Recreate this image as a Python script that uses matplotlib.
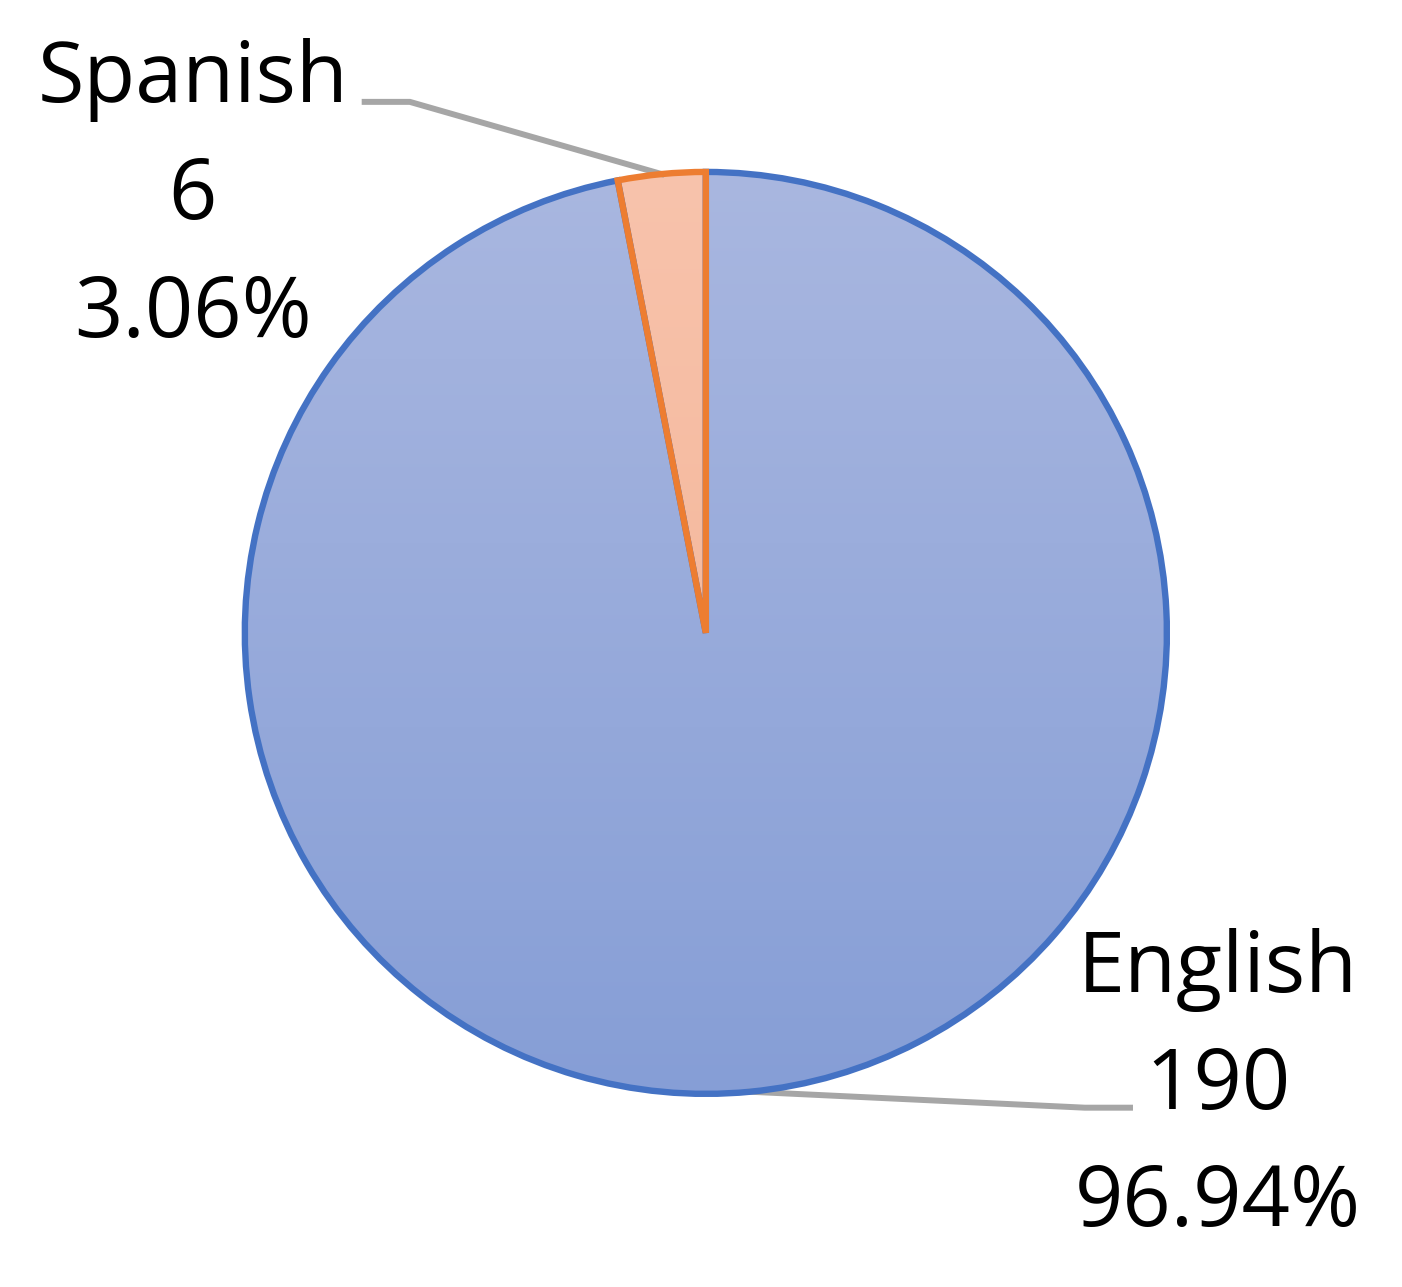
import numpy as np
import matplotlib.pyplot as plt
from matplotlib.colors import LinearSegmentedColormap

languages = ["English", "Spanish"]
counts = [190, 6]
percents = ["96.94%", "3.06%"]

edge_colors = ["#4472C4", "#ED7D31"]
grad_top = ["#A9B7E0", "#F8C3AC"]
grad_bottom = ["#869ED6", "#F2B090"]

fig = plt.figure(figsize=(14.02, 12.87), dpi=100)
ax = fig.add_axes([0, 0, 1, 1])
ax.axis("off")

wedges, _ = ax.pie(counts, startangle=90, counterclock=False, radius=1.0,
                   wedgeprops=dict(facecolor="none", linewidth=0))

# gradient fill clipped to each wedge, then the outline on top
for i, w in enumerate(wedges):
    cmap = LinearSegmentedColormap.from_list("g%d" % i, [grad_bottom[i], grad_top[i]])
    grad = np.linspace(0, 1, 256).reshape(-1, 1)
    im = ax.imshow(grad, cmap=cmap, origin="lower", extent=(-1, 1, -1, 1),
                   aspect="auto", zorder=1)
    im.set_clip_path(w)

for i in [0, 1]:
    w = wedges[i]
    w.set_edgecolor(edge_colors[i])
    w.set_linewidth(4.6)
    w.set_zorder(3 + i)
    w.set_joinstyle("miter")

ax.set_xlim(-1.531, 1.510)
ax.set_ylim(-1.419, 1.373)

font = ["Open Sans", "DejaVu Sans"]
label_pos = [(1.111, -0.985), (-1.113, 0.945)]
elbows = [((0.822, -1.030), (0.920, -1.030)), ((-0.642, 1.152), (-0.740, 1.152))]

for i, w in enumerate(wedges):
    mid = np.deg2rad((w.theta1 + w.theta2) / 2)
    ax0 = np.cos(mid) * w.r
    ay0 = np.sin(mid) * w.r
    (ex, ey), (fx, fy) = elbows[i]
    ax.plot([ax0, ex, fx], [ay0, ey, fy], color="#A6A6A6", lw=4.3,
            solid_joinstyle="miter", zorder=2)
    ax.text(label_pos[i][0], label_pos[i][1],
            f"{languages[i]}\n{counts[i]}\n{percents[i]}",
            ha="center", va="center", fontsize=61, family=font,
            linespacing=1.52, color="black")

fig.savefig("out.png", dpi=100)
